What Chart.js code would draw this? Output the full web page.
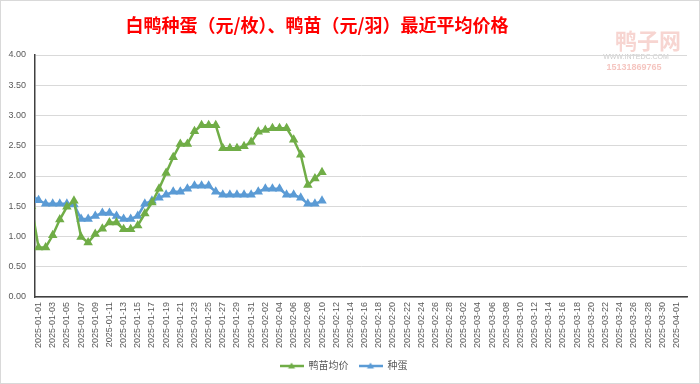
<!DOCTYPE html>
<html>
<head>
<meta charset="utf-8">
<script src="https://cdn.jsdelivr.net/npm/chart.js@4/dist/chart.umd.min.js"></script>
<style>
html,body{margin:0;padding:0;background:#fff;}
#wrap{width:700px;height:384px;position:relative;}
</style>
</head>
<body>
<div id="wrap"><canvas id="c" width="700" height="384"></canvas></div>
<script>
// Dates: one hidden day before the visible window (data clipped at the left edge), then 2025-01-01 .. 2025-04-02
const dateLabels = [];
(function(){
  const d = new Date(Date.UTC(2024, 11, 31));
  const end = new Date(Date.UTC(2025, 3, 2));
  while (d <= end) {
    dateLabels.push(d.toISOString().slice(0, 10));
    d.setUTCDate(d.getUTCDate() + 1);
  }
})();

const titleText = '白鸭种蛋（元/枚）、鸭苗（元/羽）最近平均价格';
const seriesNames = ['鸭苗均价', '种蛋'];

// values from 2024-12-31 through 2025-02-10
const duckling = [1.50,
  0.82, 0.82, 1.02, 1.28, 1.49, 1.59, 0.99, 0.90, 1.04, 1.13,
  1.23, 1.23, 1.12, 1.12, 1.18, 1.38, 1.56, 1.79, 2.05, 2.31,
  2.53, 2.53, 2.74, 2.84, 2.84, 2.84, 2.46, 2.46, 2.46, 2.49,
  2.56, 2.73, 2.76, 2.79, 2.79, 2.79, 2.60, 2.35, 1.85, 1.96,
  2.06];
const eggs = [1.68,
  1.60, 1.54, 1.54, 1.54, 1.54, 1.53, 1.29, 1.29, 1.34, 1.39,
  1.39, 1.34, 1.29, 1.29, 1.34, 1.54, 1.59, 1.64, 1.69, 1.74,
  1.74, 1.79, 1.84, 1.84, 1.84, 1.74, 1.69, 1.69, 1.69, 1.69,
  1.69, 1.74, 1.79, 1.79, 1.79, 1.69, 1.69, 1.64, 1.54, 1.54,
  1.59];

const GREEN = '#70AD47';
const BLUE = '#5B9BD5';
const FONT = "'Liberation Sans', 'Noto Sans CJK SC', sans-serif";

function legendIcon(color) {
  const cv = document.createElement('canvas');
  cv.width = 24; cv.height = 10;
  const g = cv.getContext('2d');
  g.strokeStyle = color; g.lineWidth = 2.5;
  g.beginPath(); g.moveTo(0, 5); g.lineTo(24, 5); g.stroke();
  g.fillStyle = color;
  g.beginPath(); g.moveTo(12, 1.5); g.lineTo(15.5, 7.5); g.lineTo(8.5, 7.5); g.closePath(); g.fill();
  return cv;
}

const decor = {
  id: 'decor',
  beforeDraw(chart) {
    const ctx = chart.ctx;
    ctx.save();
    ctx.fillStyle = '#ffffff';
    ctx.fillRect(0, 0, chart.width, chart.height);
    ctx.strokeStyle = '#D9D9D9';
    ctx.lineWidth = 1;
    ctx.strokeRect(0.5, 0.5, chart.width - 1, chart.height - 1);
    // watermark
    ctx.fillStyle = 'rgba(236,150,140,0.4)';
    ctx.font = "bold 22px 'Noto Sans CJK SC', sans-serif";
    ctx.textAlign = 'center';
    ctx.textBaseline = 'middle';
    ctx.fillText('鸭子网', 648, 41);
    ctx.font = "7px 'Liberation Sans', sans-serif";
    ctx.fillStyle = 'rgba(160,160,160,0.55)';
    ctx.fillText('WWW.INTEDC.COM', 636, 57);
    ctx.font = "bold 9px 'Liberation Sans', sans-serif";
    ctx.fillStyle = 'rgba(236,150,140,0.55)';
    ctx.fillText('15131869765', 634, 68);
    ctx.restore();
  },
  afterDraw(chart) {
    const ctx = chart.ctx;
    ctx.save();
    ctx.fillStyle = '#FF0000';
    ctx.font = "bold 18px 'Noto Sans CJK SC', sans-serif";
    ctx.textAlign = 'center';
    ctx.textBaseline = 'middle';
    ctx.fillText(titleText, 317, 25);
    ctx.restore();
  }
};

new Chart(document.getElementById('c'), {
  type: 'line',
  data: {
    labels: dateLabels,
    datasets: [
      { label: seriesNames[0], data: duckling, borderColor: GREEN, backgroundColor: GREEN,
        borderWidth: 2.5, pointStyle: 'triangle', pointRadius: 3, pointHoverRadius: 3, tension: 0 },
      { label: seriesNames[1], data: eggs, borderColor: BLUE, backgroundColor: BLUE,
        borderWidth: 2.5, pointStyle: 'triangle', pointRadius: 3, pointHoverRadius: 3, tension: 0 }
    ]
  },
  options: {
    responsive: false,
    animation: false,
    layout: { padding: { top: 55, right: 13, left: 0, bottom: 3 } },
    plugins: {
      title: { display: false },
      tooltip: { enabled: false },
      legend: {
        position: 'bottom',
        labels: {
          usePointStyle: true,
          pointStyleWidth: 24,
          padding: 10,
          color: '#595959',
          font: { size: 10, family: FONT },
          generateLabels(chart) {
            return chart.data.datasets.map((ds, i) => ({
              text: ds.label,
              fillStyle: ds.borderColor,
              strokeStyle: ds.borderColor,
              lineWidth: 0,
              pointStyle: legendIcon(ds.borderColor),
              hidden: false,
              datasetIndex: i,
              fontColor: '#595959'
            }));
          }
        }
      }
    },
    scales: {
      x: {
        type: 'category',
        min: '2025-01-01',
        max: '2025-04-02',
        offset: true,
        grid: { display: false, drawTicks: false },
        border: { display: true, color: '#404040', width: 1.5 },
        ticks: {
          autoSkip: false,
          maxRotation: 90,
          minRotation: 90,
          padding: 5,
          color: '#595959',
          font: { size: 9, family: FONT },
          callback(value) {
            const lab = this.getLabelForValue(value);
            return ((value - 1) % 2 === 0) ? lab : '';
          }
        },
        afterFit(scale) { scale.height = 54; }
      },
      y: {
        min: 0,
        max: 4,
        grid: { color: '#D9D9D9', lineWidth: 1, drawTicks: false },
        border: { display: true, color: '#404040', width: 1.5 },
        ticks: {
          stepSize: 0.5,
          padding: 9,
          color: '#595959',
          font: { size: 9, family: FONT },
          callback(v) { return Number(v).toFixed(2); }
        },
        afterFit(scale) { scale.width = 35; }
      }
    }
  },
  plugins: [decor]
});
</script>
</body>
</html>
